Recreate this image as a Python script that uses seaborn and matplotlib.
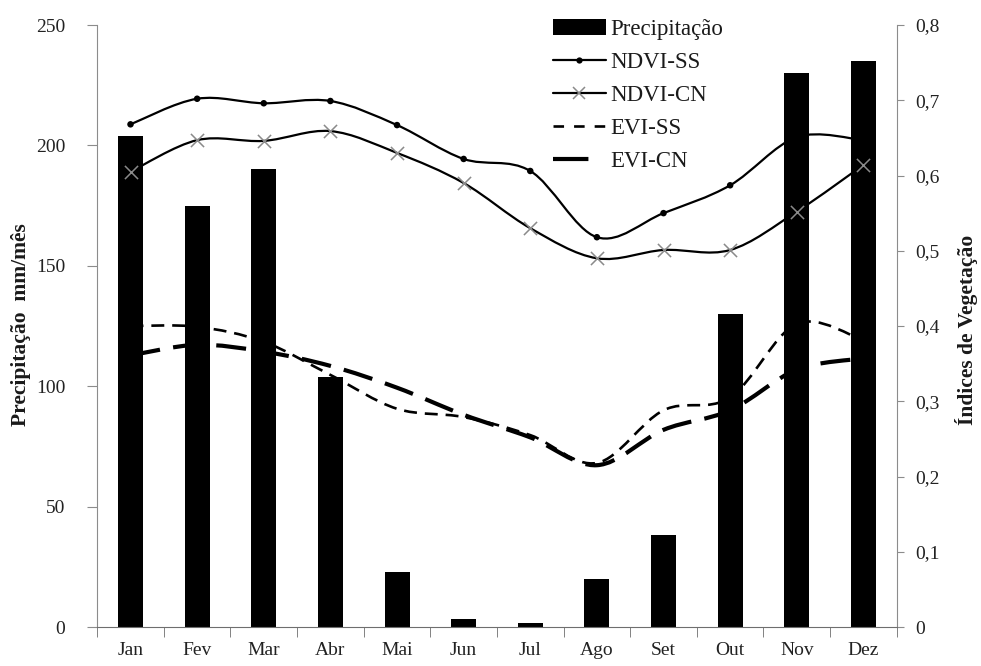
import numpy as np
import pandas as pd
import matplotlib
matplotlib.use("Agg")
import matplotlib.pyplot as plt
from matplotlib.path import Path
from matplotlib.patches import PathPatch, Patch
from matplotlib.lines import Line2D
import seaborn as sns

# ---------------- data ----------------
months = ['Jan', 'Fev', 'Mar', 'Abr', 'Mai', 'Jun', 'Jul', 'Ago', 'Set', 'Out', 'Nov', 'Dez']
precip = [204, 175, 190, 104, 23, 3.3, 1.7, 20, 38, 130, 230, 235]
ndvi_ss = [0.668, 0.702, 0.696, 0.699, 0.667, 0.622, 0.606, 0.518, 0.550, 0.587, 0.651, 0.647]
ndvi_cn = [0.605, 0.647, 0.646, 0.659, 0.630, 0.590, 0.530, 0.490, 0.501, 0.501, 0.552, 0.614]
evi_ss = [0.400, 0.399, 0.379, 0.335, 0.290, 0.279, 0.255, 0.218, 0.288, 0.305, 0.403, 0.381]
evi_cn = [0.361, 0.375, 0.366, 0.347, 0.318, 0.282, 0.252, 0.215, 0.262, 0.288, 0.342, 0.357]
left_ticks = [0, 50, 100, 150, 200, 250]
right_ticks = [0, 0.1, 0.2, 0.3, 0.4, 0.5, 0.6, 0.7, 0.8]
right_tick_labels = ['0', '0,1', '0,2', '0,3', '0,4', '0,5', '0,6', '0,7', '0,8']
series_names = ['Precipitação', 'NDVI-SS', 'NDVI-CN', 'EVI-SS', 'EVI-CN']

sns.set_style("white")
plt.rcParams['font.family'] = ['Liberation Serif', 'DejaVu Serif']
plt.rcParams['text.color'] = '#1a1a1a'

df = pd.DataFrame({'mes': months, 'precip': precip, 'ndvi_ss': ndvi_ss,
                   'ndvi_cn': ndvi_cn, 'evi_ss': evi_ss, 'evi_cn': evi_cn})
df['pos'] = np.arange(len(months))

fig = plt.figure(figsize=(9.81, 6.66), dpi=100)
pos = [97.2 / 981, 39 / 666, 799.5 / 981, 602 / 666]
ax2 = fig.add_axes(pos)            # lines (behind bars)
ax = fig.add_axes(pos, sharex=ax2)  # bars
ax3 = fig.add_axes(pos, sharex=ax2)  # markers on top
for a in (ax, ax3):
    a.patch.set_visible(False)

# bars
sns.barplot(data=df, x='pos', y='precip', color='black', width=0.375,
            ax=ax, native_scale=True, saturation=1, edgecolor='none')


def smooth_path(xs, ys):
    P = np.column_stack([xs, ys]).astype(float)
    n = len(P)
    verts = [P[0]]
    codes = [Path.MOVETO]
    for i in range(n - 1):
        p0 = P[i - 1] if i > 0 else P[i]
        p3 = P[i + 2] if i + 2 < n else P[i + 1]
        c1 = P[i] + (P[i + 1] - p0) / 6.0
        c2 = P[i + 1] - (p3 - P[i]) / 6.0
        verts += [c1, c2, P[i + 1]]
        codes += [Path.CURVE4] * 3
    return Path(verts, codes)


line_styles = {
    'ndvi_ss': dict(lw=1.6, ls='-'),
    'ndvi_cn': dict(lw=1.6, ls='-'),
    'evi_ss': dict(lw=1.9, ls=(0, (4.9, 3.0))),
    'evi_cn': dict(lw=3.0, ls=(0, (7.2, 3.2))),
}
for col, st in line_styles.items():
    path = smooth_path(df['pos'], df[col])
    ax2.add_patch(PathPatch(path, fill=False, edgecolor='black', linewidth=st['lw'],
                            linestyle=st['ls'], capstyle='butt', joinstyle='round'))

# markers
sns.scatterplot(data=df, x='pos', y='ndvi_ss', ax=ax3, marker='o', s=22,
                color='black', edgecolor='none', zorder=5)
sns.scatterplot(data=df, x='pos', y='ndvi_cn', ax=ax3, marker='x', s=90,
                color='#8a8a8a', linewidth=1.1, zorder=5)

# limits
ax.set_xlim(-0.5, 11.5)
ax.set_ylim(0, 250)
for a in (ax2, ax3):
    a.set_ylim(0, 0.8)

# axis cosmetics
spine_col = '#8c8c8c'
for a in (ax, ax2, ax3):
    a.set_xlabel('')
    a.set_ylabel('')
    for s in a.spines.values():
        s.set_visible(False)
    a.tick_params(left=False, right=False, bottom=False, top=False,
                  labelleft=False, labelright=False, labelbottom=False)

ax.spines['left'].set_visible(True)
ax.spines['left'].set_color(spine_col)
ax.spines['bottom'].set_visible(True)
ax.spines['bottom'].set_color('#6e6e6e')
ax2.spines['right'].set_visible(True)
ax2.spines['right'].set_color(spine_col)

ax.set_yticks(left_ticks)
ax.set_yticklabels([str(t) for t in left_ticks])
ax.tick_params(axis='y', left=True, labelleft=True, direction='out', length=7,
               color=spine_col, pad=16, labelsize=14, labelcolor='#222222')

ax2.yaxis.tick_right()
ax2.set_yticks(right_ticks)
ax2.set_yticklabels(right_tick_labels)
ax2.tick_params(axis='y', right=True, labelright=True, left=False, labelleft=False,
                direction='out', length=5, color=spine_col, pad=8.5,
                labelsize=14, labelcolor='#222222')

ax.set_xticks(np.arange(len(months)))
ax.set_xticklabels(months)
ax.set_xticks(np.arange(-0.5, len(months), 1.0), minor=True)
ax.tick_params(axis='x', which='major', bottom=True, labelbottom=True, length=0,
               pad=11, labelsize=14, labelcolor='#222222')
ax.tick_params(axis='x', which='minor', bottom=True, length=7, direction='out',
               color='#6e6e6e')
for a in (ax2, ax3):
    a.tick_params(axis='x', which='both', bottom=False, labelbottom=False)
ax3.set_yticks([])

# axis titles
fig.text(21 / 981, 1 - 325 / 666, 'Precipitação  mm/mês', rotation=90,
         ha='center', va='center', fontsize=15.5, fontweight='bold')
fig.text(967 / 981, 1 - 330 / 666, 'Índices de Vegetação', rotation=90,
         ha='center', va='center', fontsize=15.5, fontweight='bold')

# legend
handles = [
    Patch(facecolor='black', edgecolor='none'),
    Line2D([0], [0], color='black', lw=1.6, marker='o', ms=4.5, mec='none'),
    Line2D([0], [0], color='black', lw=1.6, marker='x', ms=9, mec='#8a8a8a', mew=1.1),
    Line2D([0], [0], color='black', lw=1.9, ls=(0, (4.0, 3.8))),
    Line2D([0], [0], color='black', lw=3.0, ls=(0, (8.5, 9.0))),
]
fig.legend(handles, series_names, loc='upper left',
           bbox_to_anchor=(553 / 981, 1 - 19 / 666), frameon=False,
           fontsize=16.5, handlelength=2.3, handletextpad=0.22,
           labelspacing=0.52, borderpad=0, borderaxespad=0, numpoints=1)

fig.savefig('out.png', dpi=100)
